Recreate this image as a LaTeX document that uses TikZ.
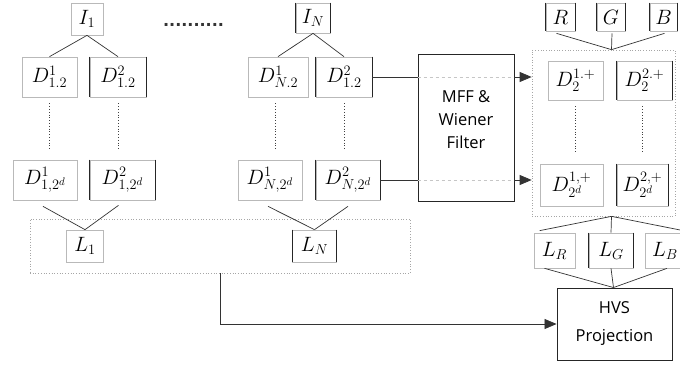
\documentclass[tikz,border=0pt]{standalone}
\usepackage{fontspec}
\newfontfamily\sansf{Open Sans}
\newfontfamily\dotf{DejaVu Sans}
\usetikzlibrary{arrows.meta,calc}
\begin{document}
\begin{tikzpicture}[x=1pt,y=-1pt,
  bx/.style={draw=gray!55, line width=0.7pt, inner sep=0pt, font=\fontsize{21}{25}\selectfont},
  dk/.style={append after command={(\tikzlastnode.north west) edge[draw=black!85,line width=0.9pt] (\tikzlastnode.south west) (\tikzlastnode.north east) edge[draw=black!85,line width=0.9pt] (\tikzlastnode.south east)}},
  grp/.style={draw=gray!70, dotted, line width=0.7pt, inner sep=0pt},
  blk/.style={draw=black!85, line width=0.9pt, inner sep=0pt, align=center, font=\sansf\fontsize{16.5}{23}\selectfont},
  ln/.style={draw=black!80, line width=0.7pt},
  faint/.style={draw=gray!45, dashed, line width=0.6pt},
  vd/.style={draw=black!75, dotted, line width=0.8pt},
  arr/.style={ln, -{Triangle[length=12pt,width=10pt]}}]
\clip (0,0) rectangle (680,369);
\useasboundingbox (0,0) rectangle (680,369);
% left group
\node[bx, minimum width=32, minimum height=32] (i1) at (87,19) {$I_1$};
\node[anchor=base, inner sep=0pt, text=black!80, font=\dotf\bfseries\fontsize{16}{20}\selectfont] (dots) at (193.5,27) {..........};
\node[bx, dk, minimum width=34, minimum height=30] (iN) at (313,18) {$I_N$};
\node[bx, minimum width=55, minimum height=40] (d11) at (49.5,77) {$D^1_{1.2}$};
\node[bx, dk, minimum width=56, minimum height=40] (d12) at (118,77) {$D^2_{1.2}$};
\node[bx, minimum width=60, minimum height=40] (dN1) at (278,77) {$D^1_{N.2}$};
\node[bx, dk, minimum width=56, minimum height=40] (dN2) at (344,77) {$D^2_{1.2}$};
\node[bx, minimum width=64, minimum height=40] (e11) at (45,180) {$D^1_{1,2^d}$};
\node[bx, dk, minimum width=65, minimum height=40] (e12) at (122.5,180) {$D^2_{1,2^d}$};
\node[bx, minimum width=64, minimum height=40] (eN1) at (270,180) {$D^1_{N,2^d}$};
\node[bx, dk, minimum width=64, minimum height=40] (eN2) at (348,180) {$D^2_{N,2^d}$};
\node[grp, minimum width=380, minimum height=54] (lbox) at (220,246) {};
\node[bx, minimum width=37, minimum height=32] (l1) at (85,246) {$L_1$};
\node[bx, dk, minimum width=44, minimum height=32] (lN) at (314.5,246) {$L_N$};
% middle block
\node[blk, minimum width=96, minimum height=147] (mff) at (466,127.5) {};
\node[inner sep=0pt, align=center, font=\sansf\fontsize{16.5}{23}\selectfont] (mfft) at (466,120) {MFF \&\\Wiener\\Filter};
% right group
\node[grp, minimum width=143, minimum height=166] (rbox) at (603.5,133) {};
\node[bx, dk, minimum width=29, minimum height=28] (r) at (560.5,17) {$R$};
\node[bx, dk, minimum width=28, minimum height=28] (g) at (611,17) {$G$};
\node[bx, dk, minimum width=27, minimum height=28] (b) at (663.5,17) {$B$};
\node[bx, minimum width=55, minimum height=39] (f1) at (575.5,80.5) {$D^{1.+}_2$};
\node[bx, dk, minimum width=55, minimum height=39] (f2) at (644.5,80.5) {$D^{2.+}_2$};
\node[bx, minimum width=63, minimum height=42] (g1) at (571.5,185) {$D^{1,+}_{2^d}$};
\node[bx, dk, minimum width=51, minimum height=42] (g2) at (642.5,185) {$D^{2,+}_{2^d}$};
\node[bx, minimum width=41, minimum height=35] (lR) at (554.5,250.5) {$L_R$};
\node[bx, dk, minimum width=44, minimum height=35] (lG) at (611,250.5) {$L_G$};
\node[bx, minimum width=40, minimum height=35] (lB) at (665,250.5) {$L_B$};
\node[blk, minimum width=115, minimum height=72, font=\sansf\fontsize{16.5}{28}\selectfont] (hvs) at (614.5,324) {HVS\\Projection};
% connectors: tree from inputs
\draw[ln] (i1.south) -- (d11.north);
\draw[ln] (i1.south) -- (d12.north);
\draw[ln] (iN.south) -- (dN1.north);
\draw[ln] (iN.south) -- (dN2.north);
% vertical dotted continuations
\draw[vd] ($(d11.south)+(0,6)$) -- ($(d11.south |- e11.north)+(0,-10)$);
\draw[vd] ($(d12.south)+(0,6)$) -- ($(d12.south |- e12.north)+(0,-10)$);
\draw[vd] ($(dN1.south)+(-3,6)$) -- ($(dN1.south |- eN1.north)+(-3,-10)$);
\draw[vd] ($(dN2.south)+(0,6)$) -- ($(dN2.south |- eN2.north)+(0,-10)$);
\draw[vd] ($(f1.south)+(0,6)$) -- ($(f1.south |- g1.north)+(0,-12)$);
\draw[vd] ($(f2.south)+(-2,6)$) -- ($(f2.south |- g2.north)+(-2,-12)$);
% merge into L
\draw[ln] ($(e11.south)+(-2,6)$) -- (l1.north);
\draw[ln] ($(e12.south)+(-4,5)$) -- (l1.north);
\draw[ln] ($(eN1.south)+(-2,6)$) -- (lN.north);
\draw[ln] ($(eN2.south)+(0,6)$) -- (lN.north);
% to MFF and beyond
\draw[ln] (dN2.east) -- (mff.west |- dN2.east);
\draw[faint] (mff.west |- dN2.east) -- (mff.east |- dN2.east);
\draw[arr] (mff.east |- dN2.east) -- (rbox.west |- dN2.east);
\draw[ln] (eN2.east) -- (mff.west |- eN2.east);
\draw[faint] (mff.west |- eN2.east) -- (mff.east |- eN2.east);
\draw[arr] (mff.east |- eN2.east) -- (rbox.west |- eN2.east);
% RGB into right group
\draw[ln] ($(r.south)+(-4,2)$) -- ($(rbox.north)+(8,0)$);
\draw[ln] ($(g.south)+(1,2)$) -- ($(rbox.north)+(8,0)$);
\draw[ln] ($(b.south)+(1,2)$) -- ($(rbox.north)+(8,0)$);
% right group into L_R L_G L_B
\draw[ln] ($(rbox.south)+(8,0)$) -- ($(lR.north west)+(6,-2)$);
\draw[ln] ($(rbox.south)+(8,0)$) -- (lG.north);
\draw[ln] ($(rbox.south)+(8,0)$) -- ($(lB.north east)+(-2,-2)$);
% into HVS
\draw[ln] ($(lR.south)+(-10,0)$) -- ($(hvs.north)+(-1,0)$);
\draw[ln] (lG.south) -- ($(hvs.north)+(-1,0)$);
\draw[ln] ($(lB.south)+(2,0)$) -- ($(hvs.north)+(-1,0)$);
% left group to HVS
\draw[arr] (lbox.south) -- (lbox.south |- hvs.west) -- (hvs.west);
\end{tikzpicture}
\end{document}
